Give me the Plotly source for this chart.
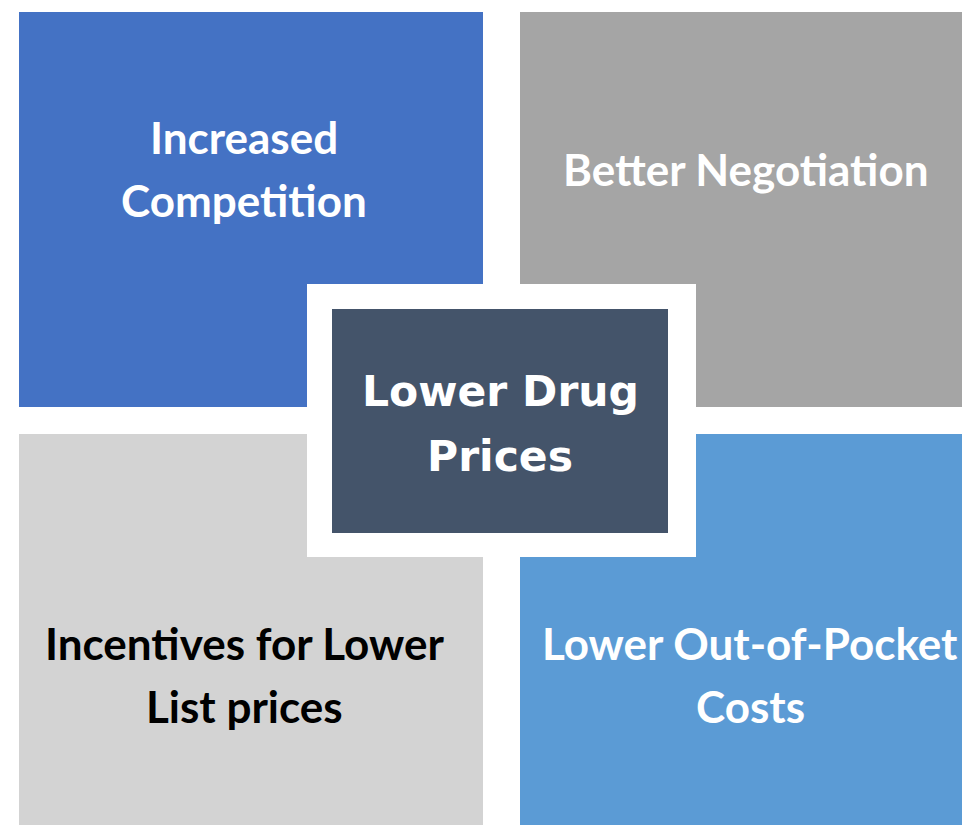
import plotly.graph_objects as go

# Diagram content
box_labels = [
    ["Increased", "Competition"],
    ["Better Negotiation"],
    ["Incentives for Lower", "List prices"],
    ["Lower Out-of-Pocket", "Costs"],
]
box_fill = ["#4472C4", "#A5A5A5", "#D3D3D3", "#5B9BD5"]
box_text_color = ["white", "white", "black", "white"]
center_label = ["Lower Drug", "Prices"]
center_fill = "#44546A"

W, H = 962, 825
# layout geometry (pixel coordinates)
boxes = [(19, 12, 483, 407), (520, 12, 962, 407), (19, 434, 483, 825), (520, 434, 962, 825)]
text_cx = [244, 746, 244, 750]
text_cy = [[137, 200], [169], [643, 706], [643, 706]]

fig = go.Figure()
shapes = []
annotations = []
for (x0, y0, x1, y1), fill in zip(boxes, box_fill):
    shapes.append(dict(type="rect", x0=x0, y0=y0, x1=x1, y1=y1, xref="x", yref="y",
                       fillcolor=fill, line=dict(width=0), layer="below"))
shapes.append(dict(type="rect", x0=307, y0=284, x1=696, y1=557, xref="x", yref="y",
                   fillcolor="white", line=dict(width=0), layer="below"))
shapes.append(dict(type="rect", x0=332, y0=309, x1=668, y1=533, xref="x", yref="y",
                   fillcolor=center_fill, line=dict(width=0), layer="below"))

for lines, cx, cys, col in zip(box_labels, text_cx, text_cy, box_text_color):
    for line, cy in zip(lines, cys):
        annotations.append(dict(x=cx, y=cy, xref="x", yref="y", text=f"<b>{line}</b>",
                                showarrow=False, xanchor="center", yanchor="middle",
                                font=dict(family="Lato", size=44, color=col)))
for line, cy in zip(center_label, [391, 456]):
    annotations.append(dict(x=500, y=cy, xref="x", yref="y", text=f"<b>{line}</b>",
                            showarrow=False, xanchor="center", yanchor="middle",
                            font=dict(family="DejaVu Sans", size=42.5, color="white")))

fig.add_trace(go.Scatter(x=[0, W], y=[0, H], mode="markers", marker=dict(opacity=0),
                         hoverinfo="skip", showlegend=False))
fig.update_layout(
    width=W, height=H, margin=dict(l=0, r=0, t=0, b=0),
    paper_bgcolor="white", plot_bgcolor="white",
    xaxis=dict(range=[0, W], visible=False, fixedrange=True),
    yaxis=dict(range=[H, 0], visible=False, fixedrange=True),
    shapes=shapes, annotations=annotations, showlegend=False,
)
fig.write_html("out.html", config={"displayModeBar": False},
               post_script="document.body.style.margin='0';document.body.style.overflow='hidden';")
